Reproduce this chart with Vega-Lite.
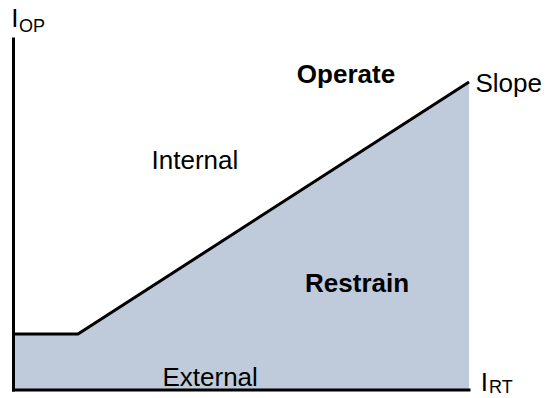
{
  "$schema": "https://vega.github.io/schema/vega-lite/v6.json",
  "width": 551,
  "height": 398,
  "padding": 0,
  "autosize": {"type": "none"},
  "config": {"view": {"stroke": null}, "text": {"font": "Liberation Sans"}},
  "datasets": {
    "region": [
      {"x": 0, "y": 15.95},
      {"x": 14.16, "y": 15.95},
      {"x": 100, "y": 87.75}
    ],
    "axes": [
      {"x": 0, "y": 0, "x2": 0, "y2": 100},
      {"x": 0, "y": 0, "x2": 100, "y2": 0}
    ],
    "bold": [
      {"label": "Operate", "x": 62.2, "y": 87.5},
      {"label": "Restrain", "x": 64.0, "y": 27.9}
    ],
    "plain": [
      {"label": "Internal", "x": 30.3, "y": 63.0},
      {"label": "External", "x": 32.7, "y": 1.1},
      {"label": "Slope", "x": 101.4, "y": 84.9},
      {"label": "I", "x": 102.6, "y": -0.3},
      {"label": "I", "x": -0.5, "y": 103.4}
    ],
    "sub": [
      {"label": "RT", "x": 104.4, "y": -0.8},
      {"label": "OP", "x": 1.2, "y": 102.0}
    ]
  },
  "layer": [
    {
      "data": {"name": "region"},
      "mark": {"type": "area", "color": "#bfcbdb", "interpolate": "linear"},
      "encoding": {
        "x": {"field": "x", "type": "quantitative", "scale": {"domain": [-2.964, 118.0], "nice": false, "zero": false}, "axis": null},
        "y": {"field": "y", "type": "quantitative", "scale": {"domain": [-2.279, 111.11], "nice": false, "zero": false}, "axis": null},
        "y2": {"datum": 0}
      }
    },
    {
      "data": {"name": "region"},
      "mark": {"type": "line", "color": "#000000", "strokeWidth": 3},
      "encoding": {
        "x": {"field": "x", "type": "quantitative"},
        "y": {"field": "y", "type": "quantitative"}
      }
    },
    {
      "data": {"name": "axes"},
      "mark": {"type": "rule", "color": "#000000", "strokeWidth": 3, "strokeCap": "square"},
      "encoding": {
        "x": {"field": "x", "type": "quantitative"},
        "y": {"field": "y", "type": "quantitative"},
        "x2": {"field": "x2"},
        "y2": {"field": "y2"}
      }
    },
    {
      "data": {"name": "bold"},
      "mark": {"type": "text", "fontSize": 26, "fontWeight": "bold", "align": "left", "baseline": "alphabetic", "color": "#000000"},
      "encoding": {
        "x": {"field": "x", "type": "quantitative"},
        "y": {"field": "y", "type": "quantitative"},
        "text": {"field": "label"}
      }
    },
    {
      "data": {"name": "plain"},
      "mark": {"type": "text", "fontSize": 26, "align": "left", "baseline": "alphabetic", "color": "#000000"},
      "encoding": {
        "x": {"field": "x", "type": "quantitative"},
        "y": {"field": "y", "type": "quantitative"},
        "text": {"field": "label"}
      }
    },
    {
      "data": {"name": "sub"},
      "mark": {"type": "text", "fontSize": 18, "align": "left", "baseline": "alphabetic", "color": "#000000"},
      "encoding": {
        "x": {"field": "x", "type": "quantitative"},
        "y": {"field": "y", "type": "quantitative"},
        "text": {"field": "label"}
      }
    }
  ]
}
